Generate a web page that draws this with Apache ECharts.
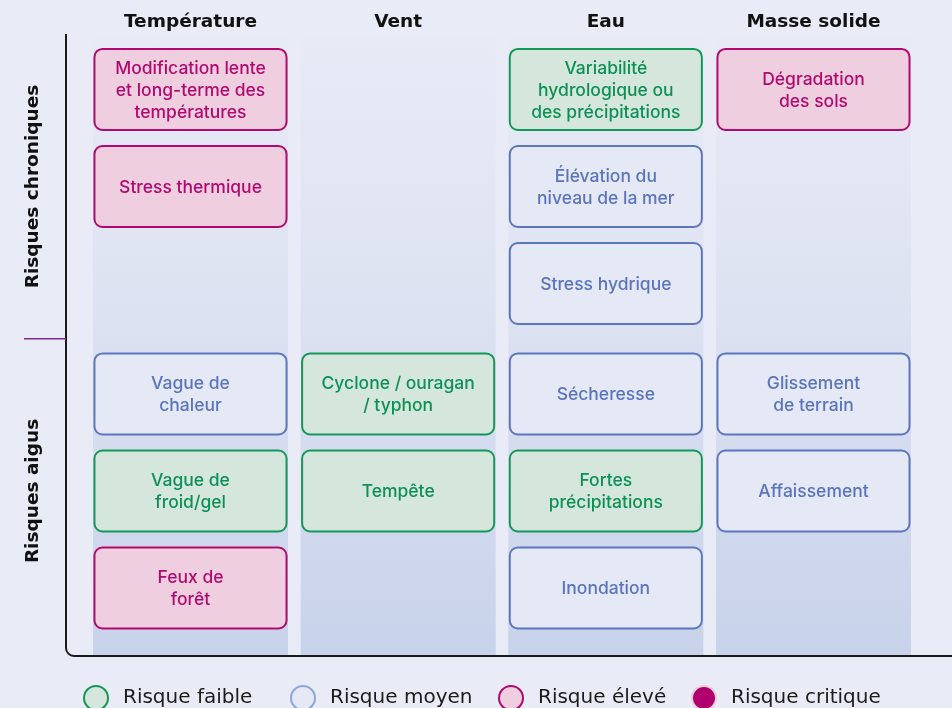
<!DOCTYPE html>
<html><head><meta charset="utf-8">
<script src="https://cdn.jsdelivr.net/npm/echarts@6/dist/echarts.min.js"></script>
<style>html,body{margin:0;padding:0;background:#e9ebf6}#c{width:952px;height:708px}</style>
</head><body><div id="c"></div><script>
// ---- data ----
const columns = ['Température', 'Vent', 'Eau', 'Masse solide'];
const groups = ['Risques chroniques', 'Risques aigus'];
const levels = ['Risque faible', 'Risque moyen', 'Risque élevé', 'Risque critique'];
const cellLabels = [
  'Modification lente\net long-terme des\ntempératures',
  'Stress thermique',
  'Vague de\nchaleur',
  'Vague de\nfroid/gel',
  'Feux de\nforêt',
  'Cyclone / ouragan\n/ typhon',
  'Tempête',
  'Variabilité\nhydrologique ou\ndes précipitations',
  'Élévation du\nniveau de la mer',
  'Stress hydrique',
  'Sécheresse',
  'Fortes\nprécipitations',
  'Inondation',
  'Dégradation\ndes sols',
  'Glissement\nde terrain',
  'Affaissement'
];
const cellColumn = [0, 0, 0, 0, 0, 1, 1, 2, 2, 2, 2, 2, 2, 3, 3, 3];
const cellGroup  = [0, 0, 1, 1, 1, 1, 1, 0, 0, 0, 1, 1, 1, 0, 1, 1];
const cellSlot   = [0, 1, 0, 1, 2, 0, 1, 0, 1, 2, 0, 1, 2, 0, 0, 1];
const cellLevel  = [2, 2, 1, 0, 2, 0, 0, 0, 1, 1, 1, 0, 1, 2, 1, 1];

// ---- styles ----
const FONT = '"DejaVu Sans", "Noto Sans", sans-serif';
const BOX_FONT = 'Inter, "Noto Sans", sans-serif';
const fills = ['#d5e7dd', '#e5e9f5', '#efcfdf', '#b0006e'];
const strokes = ['#14985a', '#5c77c0', '#b1096f', '#efcfdf'];
const textColors = ['#0e9055', '#5a74bd', '#b1096f', '#ffffff'];
const legendStrokes = ['#14985a', '#8ea5da', '#b1096f', '#efcfdf'];
const SLOTS = 3, GROUP_GAP = 0.139;
const BOX_W = 0.925, BOX_H = 0.835, BAND_W = 0.939;
const GRID = { left: 66, top: 34, right: 0, bottom: 52 };
const W = 952, H = 708, CORNER = 8;

function rowPos(g, s) { return g * SLOTS + s + (g ? GROUP_GAP : 0); }

const chart = echarts.init(document.getElementById('c'), null, { renderer: 'canvas' });

function renderBand(params, api) {
  const c = api.coord([api.value(0), 0]);
  const w = api.size([BAND_W, 0])[0];
  const cs = params.coordSys;
  return {
    type: 'rect',
    shape: { x: c[0] - w / 2, y: cs.y + 4, width: w, height: cs.height - 4 },
    style: {
      fill: { type: 'linear', x: 0, y: 0, x2: 0, y2: 1, colorStops: [
        { offset: 0, color: '#e8ebf6' }, { offset: 0.45, color: '#dde2f2' }, { offset: 1, color: '#c8d2ea' }
      ] }
    },
    silent: true
  };
}

function makeBoxRenderer(L) {
  return function (params, api) {
    const c = api.coord([api.value(0), api.value(1)]);
    const s = api.size([BOX_W, BOX_H]);
    const label = cellLabels[api.value(2)];
    return {
      type: 'group',
      children: [{
        type: 'rect',
        shape: { x: c[0] - s[0] / 2, y: c[1] - s[1] / 2, width: s[0], height: s[1], r: 8 },
        style: { fill: fills[L], stroke: strokes[L], lineWidth: 2 }
      }, {
        type: 'text',
        style: {
          text: label, x: c[0], y: c[1] + 1, align: 'center', verticalAlign: 'middle',
          fill: textColors[L], font: '500 17.5px ' + BOX_FONT, lineHeight: 22
        }
      }]
    };
  };
}

const levelSeries = levels.map((name, L) => {
  const data = [];
  cellLabels.forEach((_, i) => {
    if (cellLevel[i] === L) data.push([cellColumn[i], rowPos(cellGroup[i], cellSlot[i]), i]);
  });
  return {
    type: 'custom', name: name, coordinateSystem: 'cartesian2d',
    itemStyle: { color: fills[L], borderColor: legendStrokes[L], borderWidth: 2 },
    encode: { x: 0, y: 1 }, data: data, renderItem: makeBoxRenderer(L), z: 3
  };
});

const legendLeft = [83, 290, 498, 691];
const legends = levels.map((name, L) => ({
  left: legendLeft[L], top: 685, orient: 'horizontal',
  icon: 'circle', itemWidth: 24, itemHeight: 24, padding: 0,
  selectedMode: false,
  data: [{ name: name, itemStyle: { color: fills[L], borderColor: legendStrokes[L], borderWidth: 2 } }],
  textStyle: { fontFamily: FONT, fontSize: 20, color: '#1c1c1c', padding: [0, 0, 0, 10] }
}));

const groupMid = groups.map((_, g) => rowPos(g, 1));
const dividerPos = (rowPos(0, SLOTS - 1) + rowPos(1, 0)) / 2;

const bottomY = H - GRID.bottom;
const frameStyle = { stroke: '#1a1a1a', lineWidth: 2, fill: null };
const frame = [
  { type: 'line', silent: true, z: 10, shape: { x1: GRID.left, y1: GRID.top, x2: GRID.left, y2: bottomY - CORNER }, style: frameStyle },
  { type: 'arc', silent: true, z: 10, shape: { cx: GRID.left + CORNER, cy: bottomY - CORNER, r: CORNER, startAngle: Math.PI / 2, endAngle: Math.PI, clockwise: true }, style: frameStyle },
  { type: 'line', silent: true, z: 10, shape: { x1: GRID.left + CORNER, y1: bottomY, x2: W, y2: bottomY }, style: frameStyle }
];
const option = {
  backgroundColor: '#e9ebf6',
  animation: false,
  grid: { left: GRID.left, top: GRID.top, right: GRID.right, bottom: GRID.bottom, containLabel: false },
  xAxis: {
    type: 'value', position: 'top', min: -0.5995, max: 3.667,
    axisLine: { show: false }, axisTick: { show: false }, splitLine: { show: false },
    axisLabel: {
      customValues: columns.map((_, i) => i),
      formatter: v => columns[Math.round(v)],
      fontFamily: FONT, fontWeight: 'bold', fontSize: 18.5, color: '#111', margin: 2
    }
  },
  yAxis: {
    type: 'value', inverse: true, min: -0.572, max: 5.84,
    axisLine: { show: false }, splitLine: { show: false }, axisTick: { show: false },
    axisLabel: {
      customValues: groupMid,
      formatter: v => groups[v < dividerPos ? 0 : 1],
      rotate: 90, margin: 23,
      fontFamily: FONT, fontWeight: 'bold', fontSize: 18.5, color: '#111'
    }
  },
  legend: legends,
  graphic: frame,
  series: [{
    type: 'custom', name: 'bands', coordinateSystem: 'cartesian2d',
    data: columns.map((_, i) => [i]), encode: { x: 0 }, renderItem: renderBand, z: 1, silent: true
  }].concat(levelSeries)
};
chart.setOption(option);
const divY = chart.convertToPixel({ yAxisIndex: 0 }, dividerPos);
chart.setOption({ graphic: frame.concat([
  { type: 'line', silent: true, z: 10, shape: { x1: 24, y1: divY, x2: GRID.left, y2: divY }, style: { stroke: '#7a2a8c', lineWidth: 1.5 } }
]) });
</script></body></html>
